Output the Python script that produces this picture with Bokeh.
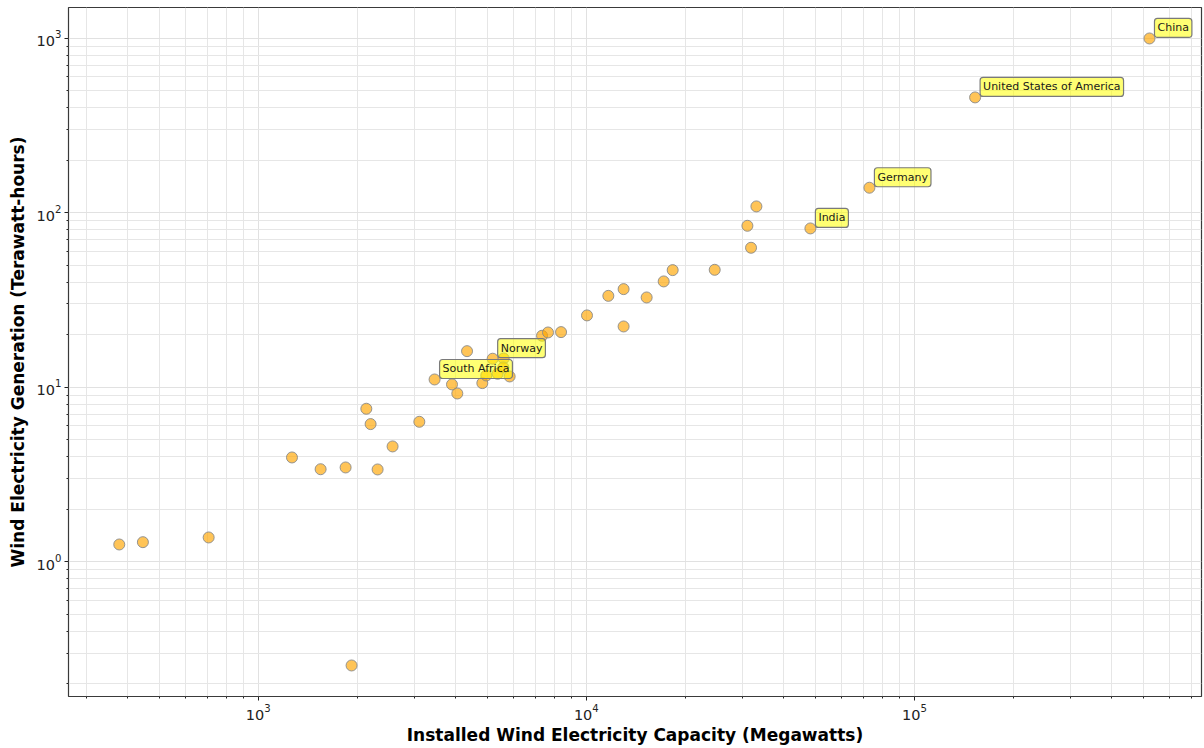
from bokeh.plotting import figure
from bokeh.models import (ColumnDataSource, Range1d, FixedTicker, LogTickFormatter, Label)
from bokeh.embed import file_html
from bokeh.resources import INLINE

# Installed wind capacity (MW) and annual wind generation (TWh) per country
capacity_mw = [377, 445, 706, 1925, 1267, 1549, 1846, 2311, 2135, 2200, 2567, 3097,
               3447, 3895, 4043, 4329, 4819, 4955, 5182, 5366, 5597, 5585, 5838,
               7328, 7641, 8374, 10047, 11670, 12990, 12990, 15270, 17210, 18330,
               24620, 31770, 30970, 32990, 48190, 72920, 153100, 520600]
generation_twh = [1.256, 1.295, 1.378, 0.2545, 3.96, 3.39, 3.47, 3.38, 7.53, 6.15, 4.58, 6.34,
                  11.08, 10.38, 9.21, 16.1, 10.56, 11.68, 14.57, 11.95, 14.62, 12.99, 11.53,
                  19.73, 20.6, 20.7, 25.8, 33.4, 36.5, 22.3, 32.7, 40.4, 46.9,
                  47.1, 63.0, 84.2, 108.7, 81.3, 139.1, 458.0, 997.0]
country = ["", "", "", "", "", "", "", "", "", "", "", "",
           "South Africa", "", "", "", "", "", "Norway", "", "", "", "",
           "", "", "", "", "", "", "", "", "", "",
           "", "", "", "", "India", "Germany", "United States of America", "China"]

x_decades = [1e3, 1e4, 1e5]
y_decades = [1e0, 1e1, 1e2, 1e3]

FONT = "DejaVu Sans"

points = ColumnDataSource(dict(x=capacity_mw, y=generation_twh))

p = figure(width=1204, height=748, x_axis_type="log", y_axis_type="log",
           x_range=Range1d(264, 750000), y_range=Range1d(0.169, 1500),
           output_backend="svg", toolbar_location=None,
           min_border_left=68, min_border_right=3, min_border_top=7, min_border_bottom=52)

p.background_fill_color = "white"
p.border_fill_color = "white"
p.outline_line_color = "#3a3a3a"
p.outline_line_width = 1.2


def minor_between(decades_lo, decades_hi):
    out = []
    for k in range(decades_lo, decades_hi):
        for m in range(2, 10):
            out.append(m * 10.0 ** k)
    return out


p.xaxis.ticker = FixedTicker(ticks=x_decades, minor_ticks=minor_between(2, 6))
p.yaxis.ticker = FixedTicker(ticks=y_decades, minor_ticks=minor_between(-1, 4))
p.xaxis.formatter = LogTickFormatter()
p.yaxis.formatter = LogTickFormatter()

for ax in (p.xaxis, p.yaxis):
    ax.axis_line_color = None
    ax.major_tick_line_color = "#222222"
    ax.minor_tick_line_color = "#222222"
    ax.major_tick_out = 4
    ax.major_tick_in = 0
    ax.minor_tick_out = 2
    ax.minor_tick_in = 0
    ax.major_label_text_font = FONT
    ax.major_label_text_font_size = "14.5px"
    ax.major_label_text_color = "#222222"
    ax.axis_label_text_font = FONT
    ax.axis_label_text_font_size = "17px"
    ax.axis_label_text_font_style = "bold"
    ax.axis_label_text_color = "black"
    ax.major_label_standoff = 3

p.xaxis.axis_label_standoff = 2
p.yaxis.axis_label_standoff = 6

p.xaxis.axis_label = "Installed Wind Electricity Capacity (Megawatts)"
p.yaxis.axis_label = "Wind Electricity Generation (Terawatt-hours)"

for g in (p.xgrid, p.ygrid):
    g.grid_line_color = "#e1e1e1"
    g.grid_line_width = 1
    g.minor_grid_line_color = "#e6e6e6"
    g.minor_grid_line_width = 1

p.scatter("x", "y", source=points, size=11, fill_color="orange", fill_alpha=0.66,
          line_color="#8a8a8a", line_alpha=0.9, line_width=1)

# callout boxes for the named countries
for cx, cy, name in zip(capacity_mw, generation_twh, country):
    if not name:
        continue
    p.add_layout(Label(x=cx, y=cy, text=name,
                       x_offset=5, y_offset=1, text_baseline="bottom",
                       text_font=FONT, text_font_size="11px", text_color="#1a1a1a",
                       background_fill_color="yellow", background_fill_alpha=0.55,
                       border_line_color="#7a7a7a", border_line_width=1.2,
                       padding=3, border_radius=3))

open("out.html", "w").write(file_html(p, INLINE))
